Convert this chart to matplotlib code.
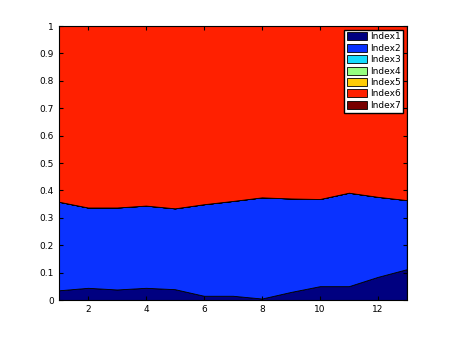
import numpy as np
import matplotlib
matplotlib.use('Agg')
from matplotlib import pyplot as plt

x = list(range(1, 14))
index1 = [0.036, 0.045, 0.039, 0.045, 0.040, 0.016, 0.016, 0.006, 0.030, 0.051, 0.051, 0.085, 0.113]
index2 = [0.323, 0.293, 0.299, 0.300, 0.295, 0.334, 0.346, 0.369, 0.341, 0.318, 0.341, 0.292, 0.252]
index3 = [0] * 13
index4 = [0] * 13
index5 = [0] * 13
index6 = [0.641, 0.662, 0.662, 0.655, 0.665, 0.650, 0.638, 0.625, 0.629, 0.631, 0.608, 0.623, 0.635]
index7 = [0] * 13
names = ['Index1', 'Index2', 'Index3', 'Index4', 'Index5', 'Index6', 'Index7']

# jet-like colours as they appear in the picture
colors = ['#000080', '#0a32ff', '#14dcff', '#96ff80', '#ffcc05', '#ff2000', '#780000']

fig = plt.figure(figsize=(4.5, 3.38), dpi=100)
ax = fig.add_axes([0.131, 0.112, 0.773, 0.811])
ax.stackplot(x, index1, index2, index3, index4, index5, index6, index7,
             colors=colors, labels=names, edgecolor='black', linewidth=0.6)
ax.set_xlim(1, 13)
ax.set_ylim(0, 1)
ax.set_xticks([2, 4, 6, 8, 10, 12])
ax.set_yticks(np.arange(0, 1.01, 0.1))
ax.set_yticklabels(['0', '0.1', '0.2', '0.3', '0.4', '0.5', '0.6', '0.7', '0.8', '0.9', '1'])
ax.tick_params(direction='in', labelsize=6.5, length=3, top=True, right=True)
ax.legend(loc='upper right', fontsize=6.5, fancybox=False, edgecolor='black',
          framealpha=1, handlelength=2.2, handleheight=1.0, borderaxespad=0.4,
          labelspacing=0.25, handletextpad=0.3, borderpad=0.3)
fig.savefig('out.png')
